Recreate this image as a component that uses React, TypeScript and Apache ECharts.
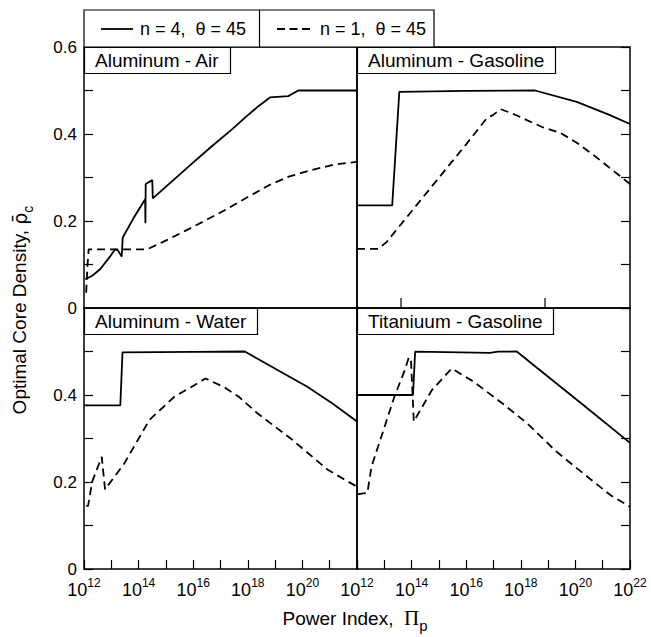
import React, { useEffect, useRef } from "react";
import * as echarts from "echarts";

const FONT = "Liberation Sans, Arial, Helvetica, sans-serif";

// x values are log10(Power Index); y values are optimal core density
const panelTitles = ["Aluminum - Air", "Aluminum - Gasoline", "Aluminum - Water", "Titaniuum - Gasoline"];
const legendLabels = ["n = 4,  θ = 45", "n = 1,  θ = 45"];
const xTickExponents = [12, 14, 16, 18, 20, 22];

const airN4: [number, number][] = [
  [12.05, 0.066], [12.3, 0.074], [12.59, 0.089], [12.95, 0.118], [13.14, 0.135], [13.25, 0.132],
  [13.38, 0.118], [13.42, 0.162], [13.8, 0.205], [14.24, 0.25], [14.25, 0.195], [14.26, 0.285],
  [14.5, 0.294], [14.52, 0.252], [15.2, 0.29], [15.9, 0.329], [16.65, 0.37], [17.41, 0.41],
  [17.96, 0.441], [18.39, 0.464], [18.81, 0.484], [19.48, 0.487], [19.85, 0.5], [22, 0.5],
];
const airN1: [number, number][] = [
  [12.08, 0.035], [12.12, 0.09], [12.17, 0.135], [13.0, 0.135], [14.32, 0.135], [15.03, 0.156],
  [15.76, 0.179], [16.5, 0.203], [17.28, 0.229], [18.0, 0.255], [18.8, 0.283], [19.5, 0.302],
  [20.32, 0.317], [21.2, 0.33], [22, 0.336],
];
const gasN4: [number, number][] = [
  [12, 0.236], [13.29, 0.236], [13.55, 0.497], [16, 0.499], [18.52, 0.5], [20.05, 0.474],
  [21.2, 0.445], [22, 0.423],
];
const gasN1: [number, number][] = [
  [12, 0.136], [12.78, 0.136], [13.09, 0.152], [14.5, 0.261], [16.02, 0.378], [16.75, 0.436],
  [16.99, 0.444], [17.26, 0.457], [17.7, 0.447], [18.22, 0.432], [18.82, 0.415], [19.44, 0.403],
  [20.05, 0.38], [20.66, 0.352], [21.3, 0.32], [22, 0.285],
];
const waterN4: [number, number][] = [
  [12, 0.376], [13.33, 0.376], [13.41, 0.498], [16, 0.499], [17.89, 0.5], [18.65, 0.473],
  [20.18, 0.419], [21.09, 0.381], [22, 0.339],
];
const waterN1: [number, number][] = [
  [12.08, 0.145], [12.15, 0.145], [12.3, 0.201], [12.65, 0.258], [12.77, 0.183], [13.48, 0.243],
  [14.4, 0.343], [15.31, 0.396], [15.92, 0.418], [16.45, 0.438], [17.13, 0.418], [17.67, 0.396],
  [18.35, 0.358], [19.57, 0.3], [20.93, 0.228], [22, 0.189],
];
const tiN4: [number, number][] = [
  [12, 0.4], [14.05, 0.4], [14.13, 0.4996], [16.87, 0.497], [17.17, 0.4996], [17.85, 0.5],
  [20.21, 0.381], [22, 0.29],
];
const tiN1: [number, number][] = [
  [12.03, 0.172], [12.38, 0.175], [12.53, 0.235], [13.37, 0.396], [13.75, 0.457], [13.9, 0.487],
  [13.98, 0.477], [14.08, 0.339], [14.74, 0.411], [15.47, 0.461], [16.26, 0.431], [17.32, 0.381],
  [18.23, 0.335], [19.3, 0.27], [20.52, 0.208], [21.28, 0.17], [22, 0.143],
];

const solidSets = [airN4, gasN4, waterN4, tiN4];
const dashedSets = [airN1, gasN1, waterN1, tiN1];

export default function App() {
  const ref = useRef<HTMLDivElement>(null);
  useEffect(() => {
    if (!ref.current) return;
    const chart = echarts.init(ref.current, undefined, { renderer: "svg" });

    const L = 84, M = 357, R = 630, T = 47, MID = 308, B = 569;
    const grids = [
      { left: L, top: T, width: M - L, height: MID - T },
      { left: M, top: T, width: R - M, height: MID - T },
      { left: L, top: MID, width: M - L, height: B - MID },
      { left: M, top: MID, width: R - M, height: B - MID },
    ].map((g) => ({ ...g, show: true, borderColor: "#000", borderWidth: 1.5, backgroundColor: "transparent" }));

    const tickStyle = { color: "#000", width: 1.2 };

    const xAxes = [0, 1, 2, 3].map((i) => {
      const lower = i >= 2;
      const hideLast = i === 2;
      return {
        gridIndex: i,
        type: "value",
        min: 12,
        max: 22,
        interval: 1,
        axisLine: { show: false, onZero: false },
        splitLine: { show: false },
        axisTick: { show: lower, inside: true, length: 9, lineStyle: tickStyle },
        axisLabel: {
          show: lower,
          margin: 8,
          formatter: (v: number) => {
            if (!xTickExponents.includes(v)) return "";
            if (hideLast && v === 22) return "";
            return `{b|10}{s|${v}}`;
          },
          rich: {
            b: { fontSize: 18, fontFamily: FONT, color: "#000", verticalAlign: "bottom", lineHeight: 22 },
            s: { fontSize: 12, fontFamily: FONT, color: "#000", verticalAlign: "top", lineHeight: 22 },
          },
        },
      };
    });

    const yAxes = [0, 1, 2, 3].map((i) => {
      const leftPanel = i % 2 === 0;
      const lowerPanel = i >= 2;
      return {
        gridIndex: i,
        type: "value",
        min: 0,
        max: 0.6,
        interval: 0.1,
        position: leftPanel ? "left" : "right",
        axisLine: { show: false, onZero: false },
        splitLine: { show: false },
        axisTick: { show: true, inside: true, length: 9, lineStyle: tickStyle },
        axisLabel: {
          show: leftPanel,
          margin: 7,
          fontSize: 17,
          fontFamily: FONT,
          color: "#000",
          formatter: (v: number) => {
            const k = Math.round(v * 10);
            if (k % 2 !== 0) return "";
            if (lowerPanel && k === 6) return "";
            return k === 0 ? "0" : (k / 10).toFixed(1);
          },
        },
      };
    });

    const titlePos = [
      { left: L, top: T },
      { left: M, top: T },
      { left: L, top: MID },
      { left: M, top: MID },
    ];
    const titles = panelTitles.map((t, i) => ({
      text: t,
      left: titlePos[i].left,
      top: titlePos[i].top,
      padding: [3, 11, 3, 11],
      borderColor: "#000",
      borderWidth: 1.2,
      backgroundColor: "#fff",
      textStyle: { fontSize: 19, fontWeight: "normal", fontFamily: FONT, color: "#000", lineHeight: 21 },
    }));

    const series: any[] = [];
    for (let i = 0; i < 4; i++) {
      series.push({
        type: "line",
        name: legendLabels[0],
        xAxisIndex: i,
        yAxisIndex: i,
        data: solidSets[i],
        symbol: "none",
        showSymbol: false,
        lineStyle: { color: "#000", width: 1.8, type: "solid" },
        z: 3,
      });
      series.push({
        type: "line",
        name: legendLabels[1],
        xAxisIndex: i,
        yAxisIndex: i,
        data: dashedSets[i],
        symbol: "none",
        showSymbol: false,
        lineStyle: { color: "#000", width: 1.8, type: [8, 5] },
        z: 3,
      });
    }

    const legY = 29;
    const graphic: any[] = [
      { type: "rect", shape: { x: 84, y: 10, width: 350, height: 37 }, style: { fill: "#fff", stroke: "#000", lineWidth: 1.2 }, z: 10 },
      { type: "line", shape: { x1: 259.5, y1: 10, x2: 259.5, y2: 47 }, style: { stroke: "#000", lineWidth: 1.2 }, z: 11 },
      { type: "line", shape: { x1: 101, y1: legY, x2: 133, y2: legY }, style: { stroke: "#000", lineWidth: 1.8 }, z: 11 },
      { type: "text", x: 140, y: legY, style: { text: legendLabels[0], font: `18px ${FONT}`, fill: "#000", textVerticalAlign: "middle", verticalAlign: "middle" }, z: 11 },
      { type: "line", shape: { x1: 277, y1: legY, x2: 310, y2: legY }, style: { stroke: "#000", lineWidth: 1.8, lineDash: [8, 4.5] }, z: 11 },
      { type: "text", x: 320, y: legY, style: { text: legendLabels[1], font: `18px ${FONT}`, fill: "#000", textVerticalAlign: "middle", verticalAlign: "middle" }, z: 11 },
      // stray inner ticks at the bottom of the upper-right panel
      { type: "line", shape: { x1: 401, y1: 298, x2: 401, y2: 308 }, style: { stroke: "#000", lineWidth: 1.2 }, z: 11 },
      { type: "line", shape: { x1: 545, y1: 298, x2: 545, y2: 308 }, style: { stroke: "#000", lineWidth: 1.2 }, z: 11 },
      {
        type: "text",
        x: 355,
        y: 621,
        style: {
          text: "{t|Power Index,  }{p|Π}{s|p}",
          textAlign: "center",
          align: "center",
          textVerticalAlign: "middle",
          verticalAlign: "middle",
          rich: {
            t: { fontSize: 19, fontFamily: FONT, fill: "#000", verticalAlign: "bottom", lineHeight: 24, padding: [0, 0, 5, 0] },
            p: { fontSize: 21, fontFamily: "Liberation Serif, DejaVu Serif, serif", fill: "#000", verticalAlign: "bottom", lineHeight: 24, padding: [0, 0, 5, 0] },
            s: { fontSize: 15, fontFamily: FONT, fill: "#000", verticalAlign: "bottom", lineHeight: 24 },
          },
        },
        z: 11,
      },
      {
        type: "text",
        x: 23,
        y: 310,
        rotation: Math.PI / 2,
        style: {
          text: "{t|Optimal Core Density, }{r|ρ\u0304}{s|c}",
          textAlign: "center",
          align: "center",
          textVerticalAlign: "middle",
          verticalAlign: "middle",
          rich: {
            t: { fontSize: 19, fontFamily: FONT, fill: "#000", verticalAlign: "bottom", lineHeight: 24, padding: [0, 0, 6, 0] },
            r: { fontSize: 19, fontFamily: "DejaVu Sans, " + FONT, fill: "#000", verticalAlign: "bottom", lineHeight: 24, padding: [0, 0, 6, 0] },
            s: { fontSize: 14, fontFamily: FONT, fill: "#000", verticalAlign: "bottom", lineHeight: 24 },
          },
        },
        z: 11,
      },
    ];

    chart.setOption({
      animation: false,
      backgroundColor: "#fff",
      title: titles,
      grid: grids,
      xAxis: xAxes,
      yAxis: yAxes,
      series,
      graphic,
    });
    return () => chart.dispose();
  }, []);

  return <div ref={ref} style={{ position: "fixed", left: 0, top: 0, width: 651, height: 637 }} />;
}
